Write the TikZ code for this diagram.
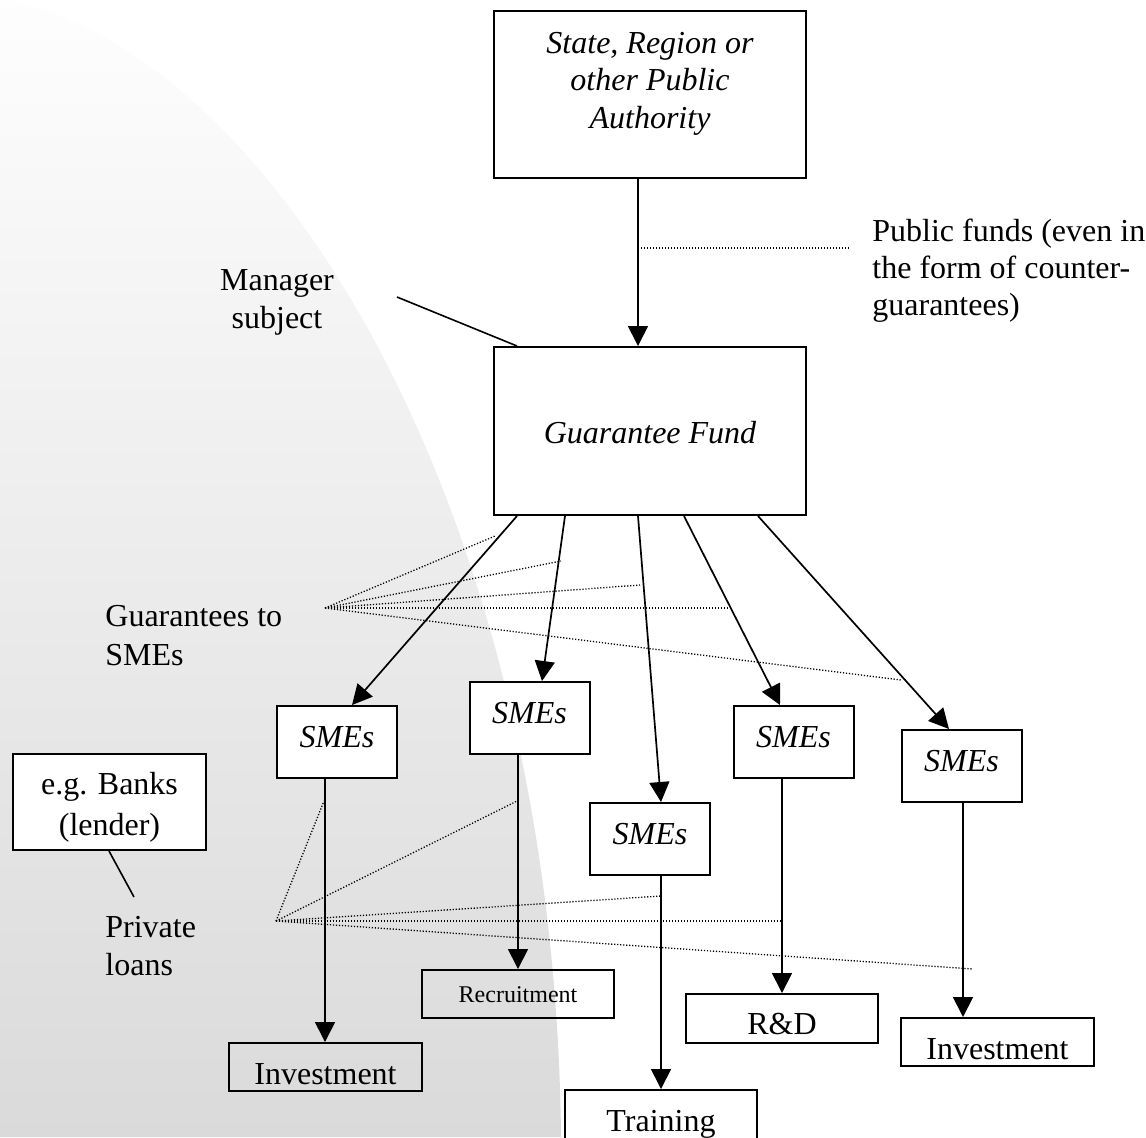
\documentclass[tikz,border=0pt]{standalone}
\usepackage{fontspec}
\setmainfont{Liberation Serif}
\usetikzlibrary{arrows.meta,calc}

\definecolor{bgtop}{gray}{0.995}
\definecolor{bgbot}{gray}{0.855}

\tikzset{
  box/.style={draw, line width=1pt, inner sep=0pt, anchor=north},
  filledbox/.style={box, fill=white},
  smebox/.style={filledbox, minimum width=60pt, text height=20.5pt, text depth=15.5pt,
    font=\fontsize{16}{18.75}\selectfont\itshape},
  outcome/.style={box, text height=20.5pt, text depth=3.5pt,
    font=\fontsize{16}{18.75}\selectfont},
  flow/.style={-{Triangle[length=10pt,width=10pt]}, line width=0.85pt},
  link/.style={line width=0.8pt},
  guide/.style={line width=0.65pt, dash pattern=on 0.6pt off 0.9pt},
  lbl/.style={inner sep=0pt},
}

\begin{document}
\begin{tikzpicture}[x=0.5pt, y=-0.5pt]
\useasboundingbox (0,0) rectangle (1146,1137);

% shaded backdrop on the left, bounded by one smooth arc
\shade[top color=bgtop, bottom color=bgbot]
  (0,0) -- (10,0) .. controls (280,60) and (555,520) .. (561,1137)
  -- (0,1137) -- cycle;

% boxes
\node[filledbox, minimum width=156pt, text height=21pt, text depth=62.5pt,
      font=\fontsize{16}{18.75}\selectfont\itshape] (pa) at (650,10)
  {\begin{tabular}[t]{@{}c@{}}State, Region or\\other Public\\Authority\end{tabular}};
\node[filledbox, minimum width=156pt, text height=48pt, text depth=36pt,
      font=\fontsize{16}{18.75}\selectfont\itshape] (gf) at (650,346) {Guarantee Fund};

\node[smebox] (s1) at (337,705) {SMEs};
\node[smebox] (s2) at (529.5,681) {SMEs};
\node[smebox] (s3) at (650,802) {SMEs};
\node[smebox] (s4) at (793.5,705) {SMEs};
\node[smebox] (s5) at (961.5,729) {SMEs};

\node[outcome, minimum width=96.5pt] (i1) at (325.5,1042) {Investment};
\node[box, minimum width=96pt, text height=16pt, text depth=8pt,
      font=\fontsize{12}{14}\selectfont] (rc) at (518,969) {Recruitment};
\node[outcome, minimum width=96pt, text depth=5.5pt] (tr) at (661,1089) {Training};
\node[outcome, minimum width=96.25pt, text height=20pt, text depth=4.5pt] (rd) at (782,993) {R\&D};
\node[outcome, minimum width=96.5pt] (i2) at (997.5,1017) {Investment};

\node[filledbox, minimum width=96.5pt, text height=20pt, text depth=28pt,
      font=\fontsize{16}{20.5}\selectfont] (bk) at (109.5,753)
  {\begin{tabular}[t]{@{}c@{}}e.g. Banks\\(lender)\end{tabular}};

% free-standing labels
\node[lbl, anchor=base, font=\fontsize{16}{19}\selectfont] (mgr) at (277,290)
  {\begin{tabular}[t]{@{}c@{}}Manager\\subject\end{tabular}};
\node[lbl, anchor=base west, font=\fontsize{16}{18.5}\selectfont] (pub) at (872,241)
  {\begin{tabular}[t]{@{}l@{}}Public funds (even in\\the form of counter-\\guarantees)\end{tabular}};
\node[lbl, anchor=base west, font=\fontsize{16}{19.5}\selectfont] (gts) at (105,626)
  {\begin{tabular}[t]{@{}l@{}}Guarantees to\\SMEs\end{tabular}};
\node[lbl, anchor=base west, font=\fontsize{16}{19}\selectfont] (pl) at (105,937)
  {\begin{tabular}[t]{@{}l@{}}Private\\loans\end{tabular}};

% funding flow
\draw[flow] ($(pa.south)+(-12,0)$) -- ($(gf.north)+(-12,0)$);
\draw[flow] ($(gf.south)+(-133,0)$) -- ($(s1.north)+(15,0)$);
\draw[flow] ($(gf.south)+(-85,0)$)  -- ($(s2.north)+(12.5,0)$);
\draw[flow] ($(gf.south)+(-12,0)$)  -- ($(s3.north)+(11,0)$);
\draw[flow] ($(gf.south)+(34,0)$)   -- ($(s4.north)+(-13.5,0)$);
\draw[flow] ($(gf.south)+(108,0)$)  -- ($(s5.north)+(-12.5,0)$);

\draw[flow] ($(s1.south)+(-12,0)$) coordinate (d1) -- (d1 |- i1.north);
\draw[flow] ($(s2.south)+(-11.5,0)$) coordinate (d2) -- (d2 |- rc.north);
\draw[flow] ($(s3.south)+(11,0)$) coordinate (d3) -- (d3 |- tr.north);
\draw[flow] ($(s4.south)+(-11.5,0)$) coordinate (d4) -- (d4 |- rd.north);
\draw[flow] ($(s5.south)+(1.5,0)$) coordinate (d5) -- (d5 |- i2.north);

% plain pointers
\coordinate (mgrtip) at (397,297);
\draw[link] (mgrtip) -- ($(gf.north west)+(24,0)$);
\coordinate (banktip) at (134,897);
\draw[link] ($(bk.south west)+(97,0)$) -- (banktip);

% dotted pointers
\coordinate (pf1) at (638,248);
\coordinate (pf2) at (850,248);
\draw[guide] (pf1) -- (pf2);

\coordinate (gfan) at (325,608);
\foreach \p [count=\k] in {(495,536),(561,561),(640,585),(732,608),(901,680)}
  \draw[guide] (gfan) -- \p coordinate (ge\k);

\coordinate (pfan) at (276,921);
\foreach \p [count=\k] in {(324,801),(517,801),(661,896),(781,921),(973,969)}
  \draw[guide] (pfan) -- \p coordinate (pe\k);
\end{tikzpicture}
\end{document}
